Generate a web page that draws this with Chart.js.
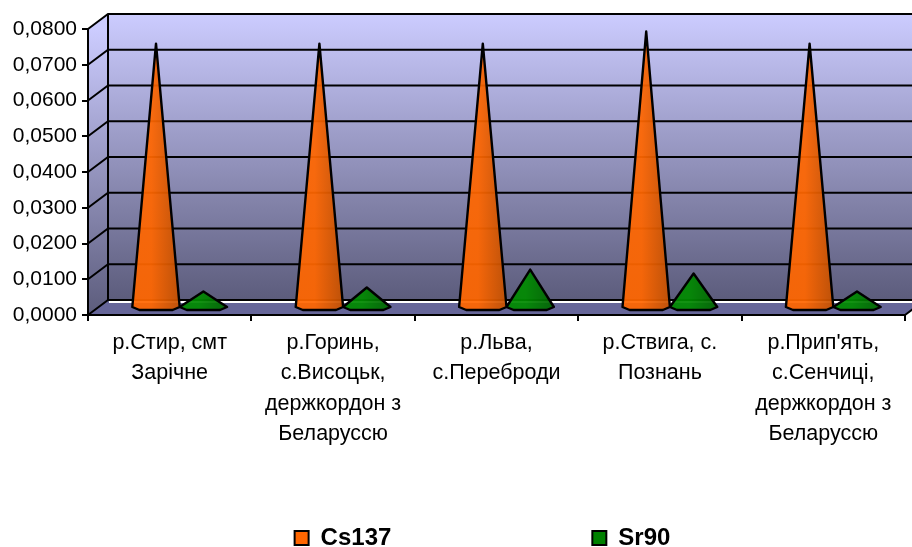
<!DOCTYPE html>
<html><head><meta charset="utf-8">
<style>html,body{margin:0;padding:0;background:#fff}#w{width:912px;height:547px}</style>
<script src="https://cdn.jsdelivr.net/npm/chart.js@4"></script>
</head><body><div id="w"><canvas id="c" width="912" height="547"></canvas></div>
<script>
const categories = [
  ["р.Стир, смт","Зарічне"],
  ["р.Горинь,","с.Висоцьк,","держкордон з","Беларуссю"],
  ["р.Льва,","с.Переброди"],
  ["р.Ствига, с.","Познань"],
  ["р.Прип'ять,","с.Сенчиці,","держкордон з","Беларуссю"]
];
const cs137 = [0.0738,0.0738,0.0738,0.0772,0.0738];
const sr90 = [0.0045,0.0056,0.0106,0.0095,0.0045];
const seriesNames = ["Cs137","Sr90"];
const DX = 20, DY = -15;

function coneGradient(ctx, x, w, light, dark){
  const g = ctx.createLinearGradient(x - w/2, 0, x + w/2, 0);
  g.addColorStop(0, light); g.addColorStop(0.4, light); g.addColorStop(1, dark);
  return g;
}
const shades = {Cs137:['#ff6600','#c45000'], Sr90:['#008a00','#006400']};
class ConeBar extends Chart.BarElement {
  draw(ctx){
    const {x,y,base,width} = this.getProps(['x','y','base','width'], true);
    const cx = x + DX/2, by = base + DY/2, ay = y + DY/2, r = width/2;
    const c = shades[this.$series] || shades.Cs137;
    ctx.save();
    ctx.beginPath();
    ctx.moveTo(cx, ay);
    ctx.lineTo(cx - r, by + 0.5);
    ctx.lineTo(cx - r*0.7, by + 3.5);
    ctx.lineTo(cx + r*0.7, by + 3.5);
    ctx.lineTo(cx + r, by + 0.5);
    ctx.closePath();
    ctx.fillStyle = coneGradient(ctx, cx, width, c[0], c[1]);
    ctx.strokeStyle = '#000';
    ctx.lineWidth = 2.4;
    ctx.lineJoin = 'round';
    ctx.globalAlpha = 0.93;
    ctx.fill();
    ctx.globalAlpha = 1;
    ctx.stroke();
    ctx.restore();
  }
}
ConeBar.id = 'coneBar';
class ConeController extends Chart.BarController {
  draw(){
    const name = this.getDataset().label;
    this.getMeta().data.forEach(e => e.$series = name);
    super.draw();
  }
}
ConeController.id = 'cone';
ConeController.defaults = Object.assign({}, Chart.BarController.defaults, {dataElementType:'coneBar'});
ConeController.overrides = Chart.BarController.overrides;
Chart.register(ConeBar, ConeController);

const walls = {
  id:'walls',
  beforeDraw(chart){
    const {ctx, chartArea:a, scales:{y}} = chart;
    const W = chart.width;
    const top = a.top, bot = a.bottom, l = a.left, r = a.right;
    ctx.save();
    const wg = ctx.createLinearGradient(0, top+DY, 0, bot+DY);
    wg.addColorStop(0,'#ccccff'); wg.addColorStop(1,'#5c5c7c');
    ctx.fillStyle = wg;
    ctx.fillRect(l+DX, top+DY, W-l-DX, bot-top);
    const sg = ctx.createLinearGradient(0, top, 0, bot);
    sg.addColorStop(0,'#ccccff'); sg.addColorStop(1,'#5c5c7c');
    ctx.fillStyle = sg;
    ctx.beginPath();
    ctx.moveTo(l,top); ctx.lineTo(l+DX,top+DY); ctx.lineTo(l+DX,bot+DY); ctx.lineTo(l,bot); ctx.closePath();
    ctx.fill();
    ctx.fillStyle = '#666699';
    ctx.beginPath();
    ctx.moveTo(l,bot); ctx.lineTo(l+DX,bot+DY); ctx.lineTo(r+DX,bot+DY); ctx.lineTo(r,bot); ctx.closePath();
    ctx.fill();
    ctx.strokeStyle = '#000'; ctx.lineWidth = 2;
    y.ticks.forEach(t => {
      const p = y.getPixelForValue(t.value);
      ctx.beginPath();
      ctx.moveTo(l,p); ctx.lineTo(l+DX,p+DY); ctx.lineTo(W,p+DY);
      ctx.stroke();
    });
    ctx.beginPath();
    ctx.moveTo(l+DX,top+DY); ctx.lineTo(l+DX,bot+DY); ctx.stroke();
    ctx.strokeStyle='#fff';
    ctx.beginPath();
    ctx.moveTo(l+DX+1,bot+DY+2); ctx.lineTo(r+DX,bot+DY+2); ctx.stroke();
    ctx.strokeStyle='#000';
    ctx.beginPath();
    ctx.moveTo(r,bot); ctx.lineTo(r+DX,bot+DY); ctx.stroke();
    ctx.restore();
  }
};
const legendFix = {
  id:'legendFix',
  beforeLayout(chart){
    const lg = chart.legend;
    if(lg && !lg.$w){
      const f = lg.fit.bind(lg);
      lg.fit = function(){ f(); this.height = 30; };
      lg.$w = true;
    }
  },
  afterLayout(chart){
    const lg = chart.legend;
    lg.left += 30; lg.right += 30;
    lg.top = 526 - lg.options.labels.padding;
  }
};

new Chart(document.getElementById('c'),{
  type:'cone',
  plugins:[walls,legendFix],
  data:{labels:categories,datasets:[
    {label:seriesNames[0],data:cs137,backgroundColor:'#ff6600',borderColor:'#000',borderWidth:2},
    {label:seriesNames[1],data:sr90,backgroundColor:'#008000',borderColor:'#000',borderWidth:2}
  ]},
  options:{
    responsive:false,animation:false,
    layout:{padding:{top:29,right:7,left:0,bottom:0}},
    categoryPercentage:0.58,barPercentage:1,
    font:{family:'"Liberation Sans"'},
    scales:{
      x:{
        grid:{drawOnChartArea:false,color:'#000',tickColor:'#000',tickLength:6,lineWidth:2},
        border:{color:'#000',width:2},
        afterFit(s){s.height=202;},
        ticks:{color:'#000',padding:7,maxRotation:0,autoSkip:false,font:{family:'"Liberation Sans"',size:21.5,lineHeight:1.41}}
      },
      y:{
        min:0,max:0.08,
        grid:{drawOnChartArea:false,color:'#000',tickColor:'#000',tickLength:6,lineWidth:2},
        border:{color:'#000',width:2},
        afterFit(s){s.width=88;},
        ticks:{stepSize:0.01,color:'#000',padding:5,font:{family:'"Liberation Sans"',size:21},callback:v=>v.toFixed(4).replace('.',',')}
      }
    },
    plugins:{
      tooltip:{enabled:false},
      legend:{position:'bottom',labels:{color:'#000',boxWidth:14,boxHeight:14,padding:201,font:{family:'"Liberation Sans"',size:24,weight:'bold'}}}
    }
  }
});
</script></body></html>
